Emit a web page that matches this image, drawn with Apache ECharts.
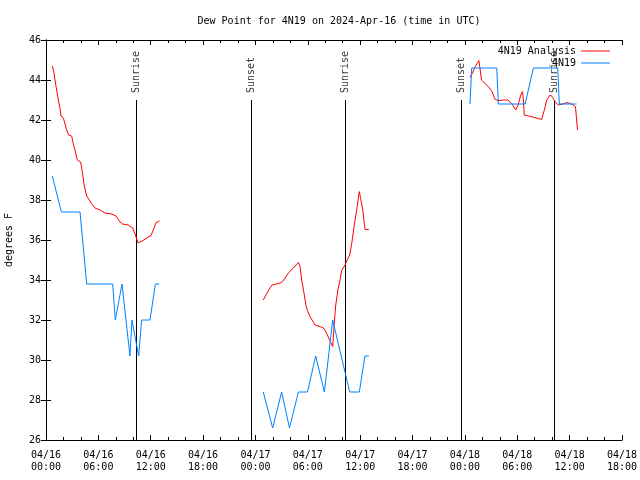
<!DOCTYPE html>
<html>
<head>
<meta charset="utf-8">
<script src="https://cdn.jsdelivr.net/npm/echarts@6/dist/echarts.min.js"></script>
<style>html,body{margin:0;padding:0;background:#fff}#c{width:640px;height:480px}</style>
</head>
<body>
<div id="c"></div>
<script>
// hours since 2024-04-16 00:00 UTC, dew point in degrees F
const redSeg1 = [[0.72,44.7],[0.9,44.4],[1.03,44.0],[1.22,43.5],[1.41,43.0],[1.6,42.6],[1.72,42.2],[1.99,42.1],[2.18,41.8],[2.37,41.5],[2.6,41.25],[2.94,41.2],[3.13,40.8],[3.32,40.5],[3.59,40.0],[3.97,39.9],[4.2,39.3],[4.39,38.7],[4.66,38.2],[4.97,38.0],[5.23,37.8],[5.61,37.6],[6.19,37.5],[6.76,37.35],[7.53,37.3],[8.02,37.2],[8.48,36.9],[8.79,36.8],[9.43,36.75],[9.93,36.6],[10.2,36.3],[10.55,35.85],[10.75,35.85],[11.2,36.0],[11.7,36.15],[12.0,36.2],[12.3,36.5],[12.6,36.87],[13.0,36.95]];
const redSeg2 = [[24.9,33.0],[25.2,33.25],[25.6,33.55],[25.9,33.75],[26.44,33.8],[27.0,33.87],[27.4,34.1],[27.8,34.37],[28.34,34.6],[28.92,34.87],[29.1,34.7],[29.3,34.0],[29.57,33.33],[29.8,32.7],[30.0,32.42],[30.25,32.17],[30.83,31.75],[31.4,31.67],[31.86,31.58],[32.24,31.25],[32.5,31.0],[32.85,30.67],[33.0,31.67],[33.2,32.75],[33.45,33.5],[33.69,34.0],[33.9,34.5],[34.27,34.75],[34.5,35.0],[34.8,35.25],[35.03,35.83],[35.3,36.67],[35.6,37.5],[35.9,38.42],[36.05,38.08],[36.3,37.5],[36.55,36.53],[37.0,36.53]];
const redSeg3 = [[48.58,44.13],[48.85,44.33],[49.17,44.67],[49.4,44.83],[49.6,44.97],[49.7,44.67],[49.9,44.0],[50.3,43.83],[50.69,43.67],[51.1,43.42],[51.45,43.03],[51.83,42.97],[52.4,43.0],[52.9,43.0],[53.35,42.83],[53.82,42.5],[54.1,42.75],[54.4,43.25],[54.6,43.42],[54.7,43.0],[54.8,42.25],[55.3,42.2],[56.03,42.12],[56.8,42.03],[57.1,42.5],[57.38,43.0],[57.75,43.25],[58.0,43.17],[58.33,42.92],[58.7,42.75],[59.2,42.8],[59.7,42.87],[60.1,42.83],[60.4,42.75],[60.67,42.67],[60.8,42.0],[60.9,41.5]];
const blueSeg1 = [[0.72,39.2],[0.92,39.2],[1.76,37.4],[3.9,37.4],[4.66,33.8],[7.64,33.8],[7.94,32.0],[8.71,33.8],[9.62,30.2],[9.85,32.0],[10.62,30.2],[10.96,32.0],[11.92,32.0],[12.53,33.8],[12.98,33.8]];
const blueSeg2 = [[24.9,28.4],[25.97,26.6],[27.0,28.4],[27.9,26.6],[28.92,28.4],[29.96,28.4],[30.9,30.2],[31.9,28.4],[32.85,32.0],[32.95,32.0],[34.8,28.4],[35.9,28.4],[36.55,30.2],[37.0,30.2]];
const blueSeg3 = [[48.58,42.8],[48.78,44.6],[51.65,44.6],[51.83,42.8],[54.9,42.8],[55.85,44.6],[58.63,44.6],[58.82,42.8],[60.8,42.8]];
const sunTimes = [10.37, 23.548, 34.318, 47.609, 58.271];
const sunLabels = ['Sunrise','Sunset','Sunrise','Sunset','Sunrise'];
const dayLabels = ['04/16','04/17','04/18'];
const seriesNames = ['4N19 Analysis','4N19'];
const sunLineTop = 43;

const FONT = 'DejaVu Sans Mono';
const RED = '#ff0000', BLUE = '#0080ff';

function fmtX(v){
  const d = Math.floor(v/24); const h = v - d*24;
  return dayLabels[d] + '\n' + String(h).padStart(2,'0') + ':00';
}

const series = [];
[[redSeg1,RED,0],[redSeg2,RED,0],[redSeg3,RED,0],[blueSeg1,BLUE,1],[blueSeg2,BLUE,1],[blueSeg3,BLUE,1]].forEach(([d,c,i])=>{
  series.push({type:'line', name:seriesNames[i], data:d, symbol:'none', color:c,
    lineStyle:{color:c,width:1}, animation:false, z:3});
});
sunTimes.forEach((t,i)=>{
  series.push({type:'line', data:[[t,26],[t,sunLineTop]], symbol:'none',
    lineStyle:{color:'#000',width:1}, animation:false, silent:true, z:2});
});
series.push({type:'scatter', data:sunTimes.map((t,i)=>[t,sunLineTop,sunLabels[i]]), symbolSize:0,
  animation:false, silent:true, z:4,
  label:{show:true, position:'top', distance:7, rotate:90, align:'left', verticalAlign:'middle',
    formatter:p=>p.data[2], fontFamily:FONT, fontSize:10, color:'#000'}});

const axisBase = {type:'value', min:0, max:66, interval:6,
  axisLine:{lineStyle:{color:'#000',width:1}},
  axisTick:{inside:true,length:5,lineStyle:{color:'#000'}},
  minorTick:{show:true,splitNumber:3,length:3,lineStyle:{color:'#000'}},
  splitLine:{show:false}};

const option = {
  animation:false,
  backgroundColor:'#fff',
  title:{text:'Dew Point for 4N19 on 2024-Apr-16 (time in UTC)', left:334, textAlign:'center', top:11,
    textStyle:{fontFamily:FONT,fontSize:10,fontWeight:'normal',color:'#000'}},
  legend:{data:seriesNames, orient:'vertical', right:25, top:41, align:'right', icon:'rect',
    itemWidth:29, itemHeight:1, itemGap:2,
    textStyle:{fontFamily:FONT,fontSize:10,color:'#000'}},
  grid:{left:46,right:18,top:40,bottom:40,containLabel:false,outerBoundsMode:'none'},
  xAxis:[
    Object.assign({}, axisBase, {position:'bottom',
      axisLabel:{formatter:fmtX, fontFamily:FONT, fontSize:10, color:'#000', margin:9, lineHeight:12}}),
    Object.assign({}, axisBase, {position:'top', axisLabel:{show:false}})
  ],
  yAxis:[
    {type:'value', min:26, max:46, interval:2, name:'degrees F', nameLocation:'middle', nameGap:32,
      nameTextStyle:{fontFamily:FONT,fontSize:10,color:'#000'},
      axisLine:{lineStyle:{color:'#000'}}, axisTick:{inside:true,length:5,lineStyle:{color:'#000'}},
      axisLabel:{fontFamily:FONT,fontSize:10,color:'#000',margin:5}, splitLine:{show:false}},
    {type:'value', min:26, max:46, interval:2, position:'right',
      axisLine:{show:true,lineStyle:{color:'#000'}}, axisTick:{inside:true,length:5,lineStyle:{color:'#000'}},
      axisLabel:{show:false}, splitLine:{show:false}}
  ],
  series:series
};
echarts.init(document.getElementById('c'),null,{renderer:'canvas'}).setOption(option);
</script>
</body>
</html>
